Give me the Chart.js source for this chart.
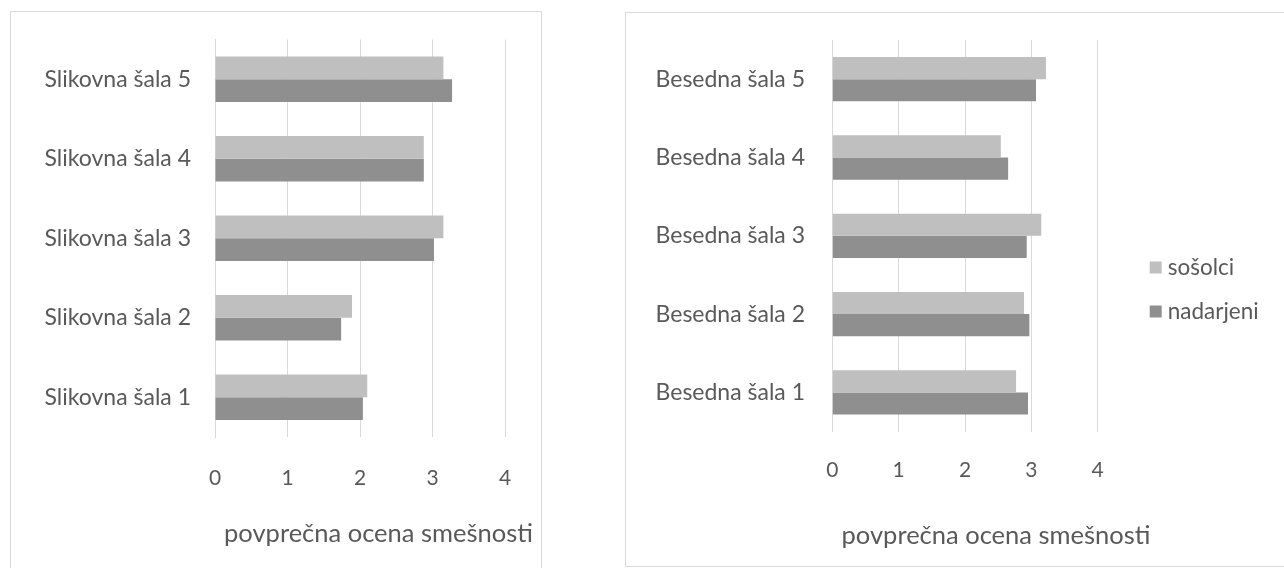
<!DOCTYPE html>
<html><head><meta charset="utf-8">
<script src="https://cdn.jsdelivr.net/npm/chart.js@4.4.1/dist/chart.umd.min.js"></script>
<style>
html,body{margin:0;padding:0;background:#fff;overflow:hidden;width:1284px;height:568px}
.panel{position:absolute;border:1px solid #d9d9d9;background:#fff;box-sizing:content-box}
#p1{left:10px;top:11px;width:530px;height:570px}
#p2{left:625px;top:12px;width:700px;height:553px}
canvas{display:block}
</style></head><body>
<div class="panel" id="p1"><canvas id="c1" width="530" height="560"></canvas></div>
<div class="panel" id="p2"><canvas id="c2" width="658" height="553"></canvas></div>
<script>
// ---- data ----
const slikovneLabels = ['Slikovna šala 5','Slikovna šala 4','Slikovna šala 3','Slikovna šala 2','Slikovna šala 1'];
const slikovneSosolci = [3.15, 2.88, 3.15, 1.89, 2.10];
const slikovneNadarjeni = [3.27, 2.88, 3.02, 1.74, 2.04];

const besedneLabels = ['Besedna šala 5','Besedna šala 4','Besedna šala 3','Besedna šala 2','Besedna šala 1'];
const besedneSosolci = [3.22, 2.54, 3.15, 2.89, 2.77];
const besedneNadarjeni = [3.07, 2.65, 2.93, 2.97, 2.95];

const seriesNames = ['sošolci','nadarjeni'];
const axisTitle = 'povprečna ocena smešnosti';
const xTicks = [0,1,2,3,4];

// ---- style ----
const FONT = 'Lato';
const TXT = '#595959';
const LIGHT = '#bfbfbf';
const DARK = '#8f8f8f';
const GRID = '#d9d9d9';

const titlePlugin = {
  id: 'axisTitleText',
  afterDraw(chart, args, opts) {
    const ctx = chart.ctx;
    ctx.save();
    ctx.font = opts.size + 'px ' + FONT;
    ctx.fillStyle = TXT;
    ctx.textAlign = 'center';
    ctx.textBaseline = 'alphabetic';
    ctx.fillText(opts.text, chart.chartArea.left + opts.dx, chart.chartArea.bottom + opts.dy);
    ctx.restore();
  }
};

const legendPlugin = {
  id: 'sideLegend',
  afterDraw(chart, args, opts) {
    if (!opts.show) return;
    const ctx = chart.ctx;
    ctx.save();
    ctx.font = opts.size + 'px ' + FONT;
    ctx.textBaseline = 'middle';
    ctx.textAlign = 'left';
    chart.data.datasets.forEach((ds, i) => {
      const y = opts.y + i * opts.step;
      const x = chart.chartArea.right + opts.dx;
      ctx.fillStyle = ds.backgroundColor;
      ctx.fillRect(x, y - 6, 12, 12);
      ctx.fillStyle = TXT;
      ctx.fillText(ds.label, x + 18, y);
    });
    ctx.restore();
  }
};

function makeChart(id, labels, sos, nad, cfg) {
  return new Chart(document.getElementById(id), {
    type: 'bar',
    data: {
      labels: labels,
      datasets: [
        {label: seriesNames[0], data: sos, backgroundColor: LIGHT, borderWidth: 0},
        {label: seriesNames[1], data: nad, backgroundColor: DARK, borderWidth: 0}
      ]
    },
    options: {
      indexAxis: 'y',
      responsive: false,
      animation: false,
      devicePixelRatio: 1,
      categoryPercentage: cfg.catPct,
      barPercentage: 1,
      layout: {padding: {top: cfg.top, right: cfg.right, bottom: 0, left: 0}},
      plugins: {
        legend: {display: false},
        tooltip: {enabled: false},
        axisTitleText: {text: axisTitle, size: 25.5, dx: cfg.titleDx, dy: cfg.titleDy},
        sideLegend: {show: cfg.legend, size: 22.5, dx: 52, y: 254.5, step: 44}
      },
      scales: {
        x: {
          min: 0, max: 4,
          afterBuildTicks: (s) => { s.ticks = xTicks.map(v => ({value: v})); },
          afterFit: (s) => { s.height = cfg.xHeight; },
          grid: {color: GRID, lineWidth: 1, drawTicks: false},
          border: {display: false},
          ticks: {color: TXT, font: {family: FONT, size: 21}, padding: cfg.xPad}
        },
        y: {
          afterFit: (s) => { s.width = cfg.yWidth; },
          grid: {display: true, drawOnChartArea: false, drawTicks: true, tickLength: cfg.yPad, tickColor: 'rgba(0,0,0,0)'},
          border: {display: true, color: GRID},
          ticks: {color: TXT, font: {family: FONT, size: 23}, padding: 0}
        }
      }
    },
    plugins: [titlePlugin, legendPlugin]
  });
}

makeChart('c1', slikovneLabels, slikovneSosolci, slikovneNadarjeni, {
  catPct: 0.57, top: 27.5, right: 36, xHeight: 135, yWidth: 204,
  xPad: 28.5, yPad: 24, titleDx: 163.5, titleDy: 105, legend: false
});
makeChart('c2', besedneLabels, besedneSosolci, besedneNadarjeni, {
  catPct: 0.566, top: 27, right: 186.3, xHeight: 134.4, yWidth: 206.3,
  xPad: 26, yPad: 27.3, titleDx: 163.7, titleDy: 112, legend: true
});
</script>
</body></html>
